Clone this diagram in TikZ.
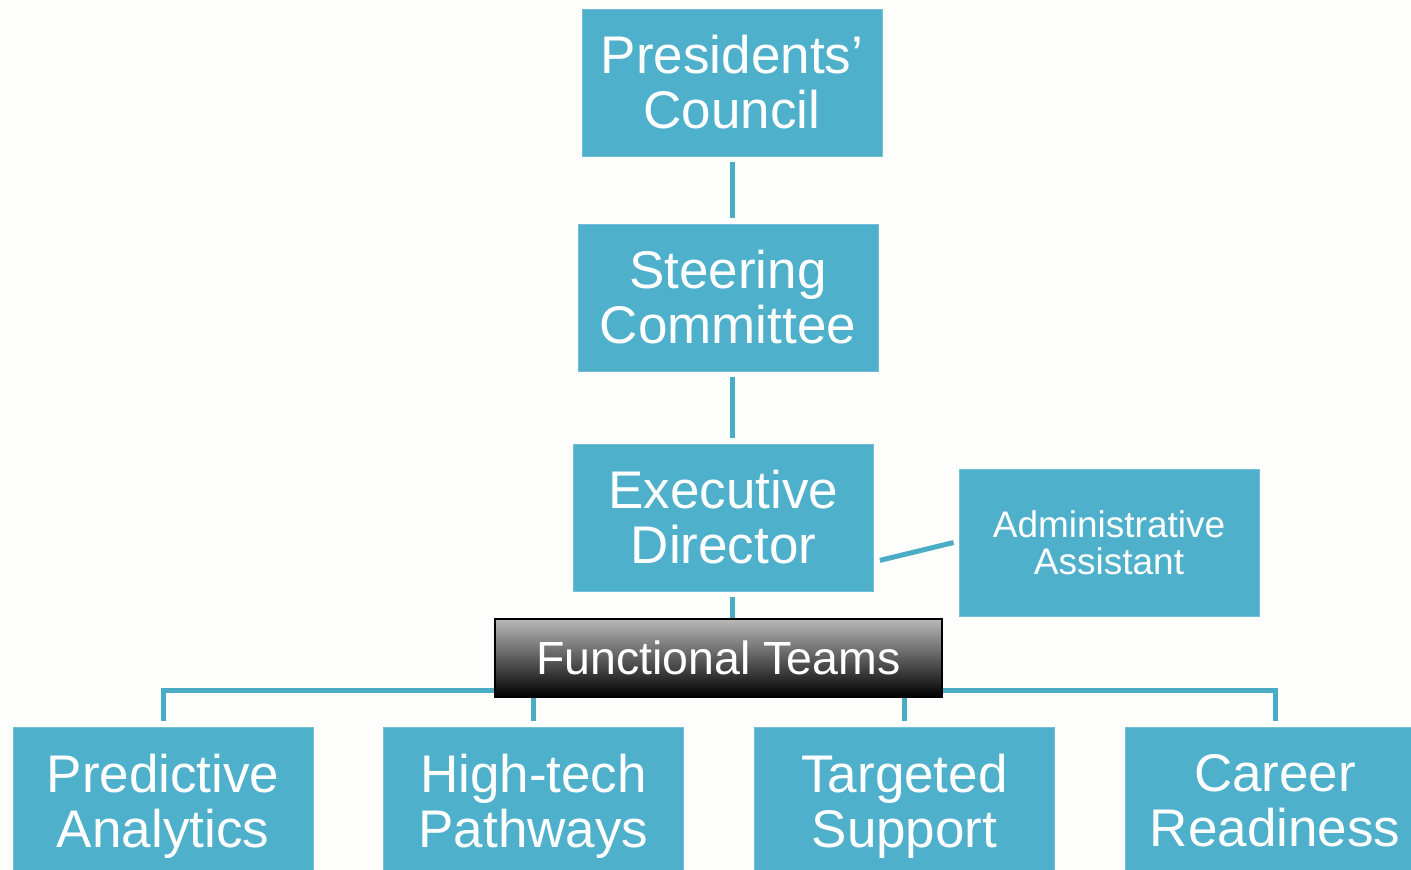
\documentclass[tikz,border=0pt]{standalone}
\usepackage{fontspec}
\setmainfont{Liberation Sans}
\usetikzlibrary{calc}
\definecolor{boxblue}{RGB}{79,176,204}
\definecolor{lineblue}{RGB}{75,172,198}
\definecolor{bgcol}{RGB}{253,253,251}
\tikzset{
  orgbox/.style={fill=boxblue, draw=boxblue!80!white, line width=0.8pt, text=white, align=center, inner sep=0pt,
    minimum width=300pt, minimum height=147pt, font=\fontsize{53}{55}\selectfont},
  smallbox/.style={orgbox, font=\fontsize{37}{37}\selectfont},
  teambox/.style={draw=black, line width=1.6pt, top color=gray!55, bottom color=black, text=white,
    inner sep=0pt, minimum width=447pt, minimum height=78pt, font=\fontsize{46.5}{48}\selectfont},
  conn/.style={draw=lineblue, line width=5pt}
}
\begin{document}
\begin{tikzpicture}[x=1pt,y=-1pt]
\fill[bgcol] (0,0) rectangle (1411,870);
\useasboundingbox (0,0) rectangle (1411,870);
\clip (0,0) rectangle (1411,870);
\node[orgbox] (pc) at (732,82.5) {Presidents’\\Council};
\node[orgbox] (sc) at (728,297.5) {Steering\\Committee};
\node[orgbox] (ed) at (723.5,517.5) {Executive\\Director};
\node[smallbox] (aa) at (1109,542.5) {Administrative\\Assistant};
\node[orgbox] (pa) at (163,800.5) {Predictive\\\smash{Analytics}};
\node[orgbox] (ht) at (533.5,800.5) {High-tech\\\smash{Pathways}};
\node[orgbox] (ts) at (904.5,800.5) {Targeted\\\smash{Support}};
\node[orgbox] (cr) at (1275,800.5) {Career\\Readiness};
% connectors
\draw[conn, shorten <=6pt, shorten >=6pt] (pc.south) -- (sc.north -| pc.south);
\draw[conn, shorten <=6pt, shorten >=6pt] (sc.south -| pc.south) -- (ed.north -| pc.south);
\draw[conn] ($(ed.south east)+(6,-31)$) -- ($(aa.west)+(-5,0)$);
\draw[conn] ([yshift=6pt]pa.north) -- ++(0,-30) -| ([yshift=6pt]cr.north);
\draw[conn] ([yshift=6pt]ht.north) -- ++(0,-30);
\draw[conn] ([yshift=6pt]ts.north) -- ++(0,-30);
\node[teambox] (ft) at (718.5,658) {Functional Teams};
\draw[conn, shorten <=6pt] (ed.south -| pc.south) -- (ft.north -| pc.south);
\end{tikzpicture}
\end{document}
